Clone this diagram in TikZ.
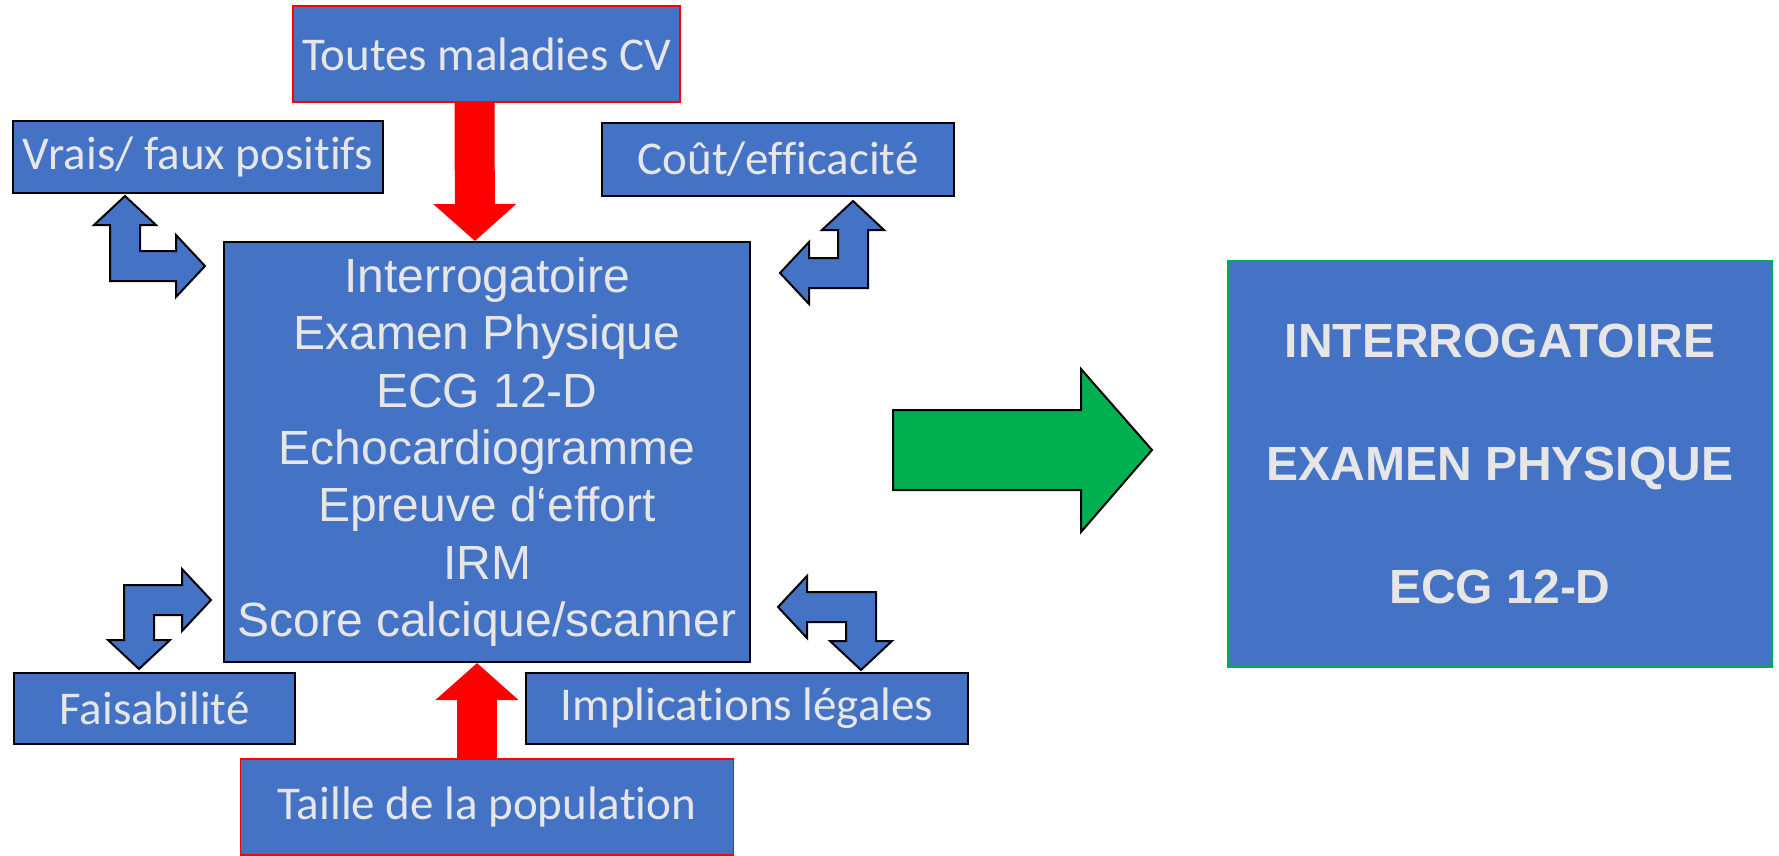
\documentclass[tikz,border=0pt]{standalone}
\usepackage{fontspec}
\setmainfont{Carlito}[Ligatures=NoCommon]
\newfontfamily\arialfont{Liberation Sans}
\usepackage{tikz}
\usetikzlibrary{arrows.meta,positioning,calc}
\definecolor{boxBlue}{HTML}{4472C4}
\definecolor{txtGrey}{HTML}{E7E6E6}
\definecolor{pureRed}{HTML}{FF0000}
\definecolor{okGreen}{HTML}{00B050}

\tikzset{
  bluebox/.style={draw=black, line width=2pt, fill=boxBlue, text=txtGrey, inner sep=0pt,
    font=\fontsize{47}{56}\selectfont},
  redbox/.style={bluebox, draw=pureRed, line width=1.6pt},
  redarrow/.style={draw=pureRed, line width=40pt, -{Triangle[width=81pt,length=37pt]}},
  benty/.style={draw=black, line width=2pt, fill=boxBlue, line join=miter},
}
% corner, xscale, yscale, horizontal arm, vertical arm
\newcommand{\bentarrow}[5]{%
  \begin{scope}[shift={#1}, xscale=#2, yscale=#3]
    \draw[benty] (0,0) -- ({#4-29},0) -- ({#4-29},-16) -- (#4,15) -- ({#4-29},46) -- ({#4-29},30)
      -- (30,30) -- (30,{#5-29}) -- (46,{#5-29}) -- (15,#5) -- (-16,{#5-29}) -- (0,{#5-29}) -- cycle;
  \end{scope}}

\begin{document}
\begin{tikzpicture}[x=1pt, y=-1pt]
  \useasboundingbox (0,0) rectangle (1779,856);

  % boxes round the list of exams
  \node[redbox, minimum width=387, minimum height=96] (top) at (486.5,54) {Toutes maladies CV};
  \node[bluebox, minimum width=370, minimum height=72] (vrais) at (198,157) {Vrais/ faux positifs};
  \node[bluebox, minimum width=352, minimum height=73] (cout) at (778,159.5) {Coût/efficacité};
  \node[bluebox, minimum width=281, minimum height=71] (faisa) at (154.5,708.5) {Faisabilité};
  \node[bluebox, minimum width=442, minimum height=71] (impl) at (747,708.5) {Implications légales};
  \node[redbox, minimum width=493, minimum height=96] (taille) at (487,807) {Taille de la population};

  \node[bluebox, minimum width=526, minimum height=420, align=center,
    font=\arialfont\fontsize{48}{57.3}\selectfont] (main) at (487,452)
    {Interrogatoire\\ Examen Physique\\ ECG 12-D\\ Echocardiogramme\\ Epreuve d‘effort\\ IRM\\ Score calcique/scanner};

  \node[bluebox, draw=okGreen, minimum width=544, minimum height=406, align=center,
    font=\arialfont\bfseries\fontsize{48}{123}\selectfont] (result) at (1500,464)
    {INTERROGATOIRE\\ EXAMEN PHYSIQUE\\ ECG 12-D};

  % red arrows
  \draw[redarrow] ([xshift=-12pt]top.south) -- ([xshift=-12pt]main.north);
  \draw[redarrow] ([xshift=-10pt]taille.north) -- ([xshift=-10pt]main.south);

  % bent double arrows
  \bentarrow{(110,281)}{1}{-1}{95}{85}
  \bentarrow{(868,288)}{-1}{-1}{88}{87}
  \bentarrow{(124,585)}{1}{1}{87}{84}
  \bentarrow{(876,592)}{-1}{1}{98}{78}

  % green arrow
  \draw[draw=black, line width=2pt, fill=okGreen] (893,410) -- (1081,410) -- (1081,369) -- (1152,450)
    -- (1081,532) -- (1081,490) -- (893,490) -- cycle;
\end{tikzpicture}
\end{document}
